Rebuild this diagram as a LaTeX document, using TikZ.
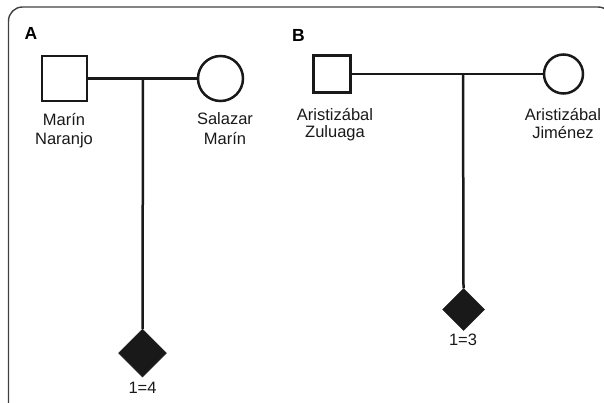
\documentclass[tikz,border=0pt]{standalone}
\usepackage{fontspec}
\setmainfont{Liberation Sans}
\usetikzlibrary{shapes.geometric}
\begin{document}
\begin{tikzpicture}[x=1pt,y=-1pt,
  ped/.style={draw=black!90, line width=2.5pt, inner sep=0pt},
  male/.style={ped, rectangle},
  female/.style={ped, circle},
  affected/.style={diamond, aspect=1, fill=black!90, draw=black!90, line width=0.5pt, inner sep=0pt},
  link/.style={draw=black!90, line width=2.5pt},
  pname/.style={anchor=base, font=\fontsize{16.5}{19}\selectfont, text=black!90},
  pcount/.style={anchor=base, font=\fontsize{16.5}{19}\selectfont, text=black!90},
  ptag/.style={anchor=base, font=\fontsize{17.5}{20}\selectfont\bfseries, text=black}]
\useasboundingbox (0,0) rectangle (604,402);
\clip (0,0) rectangle (604,402);
% outer frame, cut at the right and bottom
\draw[black!75, line width=1.4pt, rounded corners=14pt] (8.5,430) |- (612,7) -- (612,430);

% panel A
\node[ptag] (labA) at (31,39) {A};
\node[male, minimum size=45pt] (fA) at (64.5,78.5) {};
\node[female, minimum size=45pt] (mA) at (220.5,78.5) {};
\coordinate (jA) at (143,78.5);
\node[affected, minimum size=48pt] (cA) at (142.5,353) {};
\draw[link] (fA.east) -- (mA.west);
\draw[link] (jA) -- (cA.north);
\node[pname] (fA1) at (64,125) {Marín};
\node[pname] (fA2) at (64,144) {Naranjo};
\node[pname] (mA1) at (225,124.5) {Salazar};
\node[pname] (mA2) at (225,144) {Marín};
\node[pcount] (nA) at (142.5,393) {1=4};

% panel B
\node[ptag] (labB) at (298.5,41.5) {B};
\node[male, minimum size=37pt] (fB) at (332,74) {};
\node[female, minimum size=39pt] (mB) at (563.5,74) {};
\coordinate (jB) at (463,74);
\node[affected, minimum size=42pt] (cB) at (463.5,309.5) {};
\draw[link] (fB.east) -- (mB.west);
\draw[link] (jB) -- (cB.north);
\node[pname] (fB1) at (335,120) {Aristizábal};
\node[pname] (fB2) at (335,137) {Zuluaga};
\node[pname] (mB1) at (563,120) {Aristizábal};
\node[pname] (mB2) at (563,138) {Jiménez};
\node[pcount] (nB) at (463,345) {1=3};
\end{tikzpicture}
\end{document}
